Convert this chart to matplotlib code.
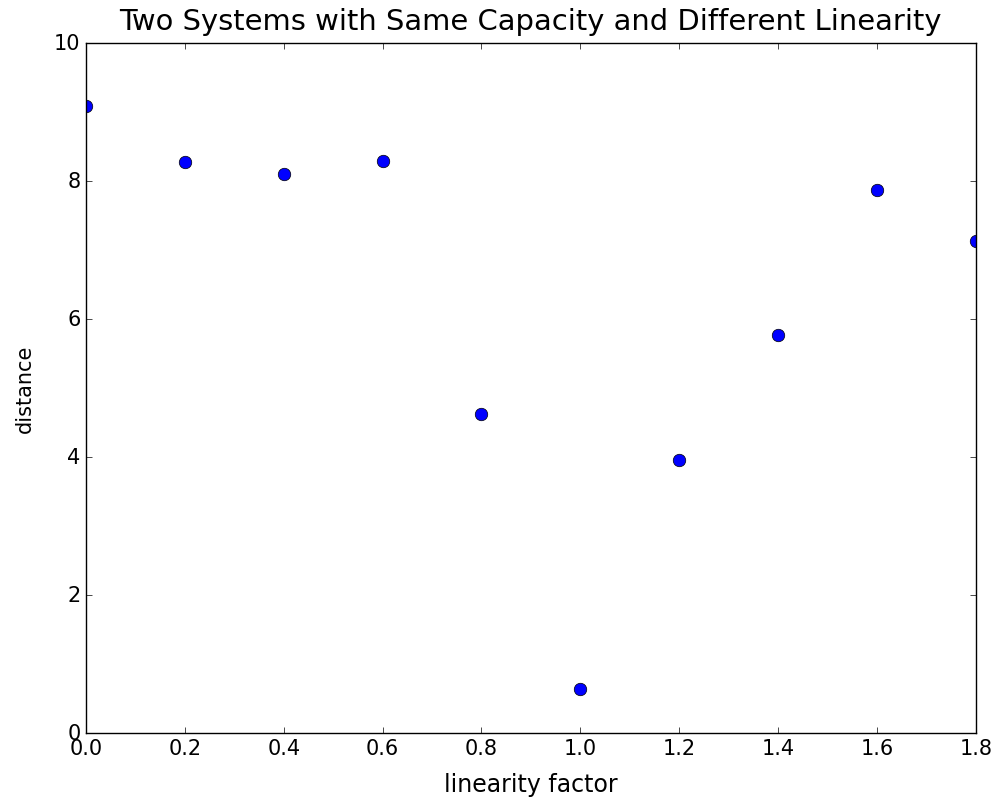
import matplotlib
matplotlib.use('Agg')
import matplotlib.pyplot as plt

plt.style.use('classic')

linearity = [0.0, 0.2, 0.4, 0.6, 0.8, 1.0, 1.2, 1.4, 1.6, 1.8]
distance = [9.09, 8.27, 8.11, 8.29, 4.62, 0.64, 3.96, 5.77, 7.87, 7.13]

fig = plt.figure(figsize=(10.02, 8.03), dpi=100)
ax = fig.add_axes([0.0858, 0.086, 0.888, 0.859])

ax.plot(linearity, distance, 'o', color='blue', markeredgecolor='black', markersize=9)

ax.set_xlim(0, 1.8)
ax.set_ylim(0, 10)
ax.set_title('Two Systems with Same Capacity and Different Linearity', fontsize=20.9, pad=10)
ax.set_xlabel('linearity factor', fontsize=17, labelpad=10)
ax.set_ylabel('distance', fontsize=15, labelpad=14)
ax.tick_params(labelsize=15)

fig.savefig('out.png', dpi=100, facecolor='white')
